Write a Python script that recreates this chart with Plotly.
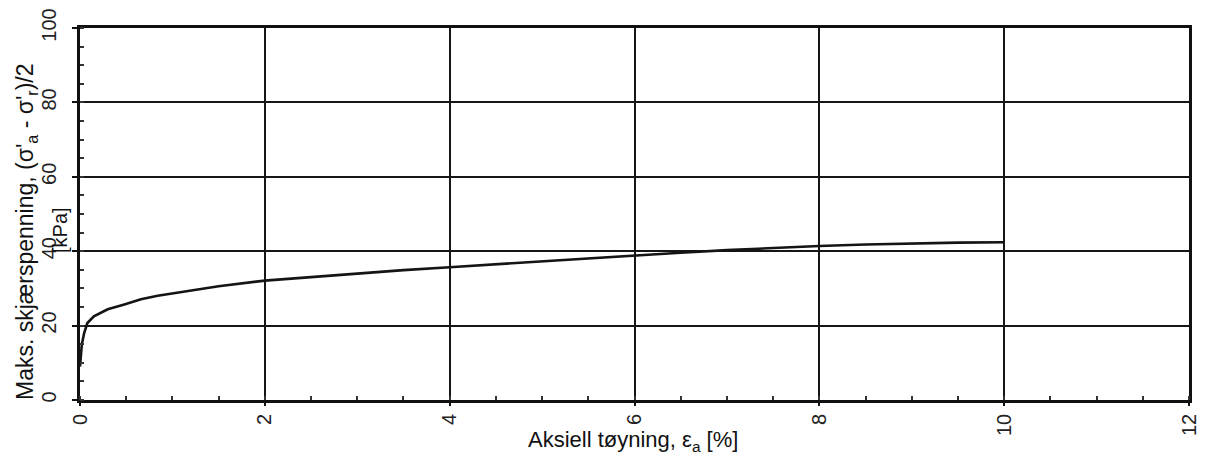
import plotly.graph_objects as go

strain = [0, 0.01, 0.02, 0.045, 0.08, 0.15, 0.3, 0.48, 0.66, 0.84, 1.1, 1.5, 2.0, 2.5, 3.0,
          3.5, 4.0, 4.5, 5.0, 5.5, 6.0, 6.5, 7.0, 7.5, 8.0, 8.5, 9.0, 9.5, 10.0]
shear = [9.0, 12.0, 15.0, 18.0, 20.7, 22.5, 24.4, 25.7, 27.1, 28.0, 29.1, 30.6, 32.1, 33.1, 34.0,
         34.9, 35.7, 36.5, 37.3, 38.1, 38.9, 39.6, 40.3, 40.9, 41.4, 41.8, 42.1, 42.3, 42.4]
x_ticks = [0, 2, 4, 6, 8, 10, 12]
y_ticks = [0, 20, 40, 60, 80, 100]

FONT = "Liberation Sans, Arial, sans-serif"

fig = go.Figure()
fig.add_trace(go.Scatter(x=strain, y=shear, mode="lines",
                         line=dict(color="#141414", width=2.6), showlegend=False,
                         hoverinfo="skip"))

axis_common = dict(showgrid=True, gridcolor="#161616", gridwidth=2.3,
                   showline=True, linecolor="#111", linewidth=2.5, mirror=True,
                   zeroline=False, tickangle=-90, automargin=False,
                   tickfont=dict(family=FONT, size=20, color="#222"))

fig.update_xaxes(range=[0, 12], tickvals=x_ticks, ticktext=[str(v) for v in x_ticks],
                 ticks="outside", ticklen=3, tickcolor="#111", tickwidth=2,
                 ticklabelstandoff=0,
                 minor=dict(dtick=0.5, ticks="inside", ticklen=4, tickcolor="#333", showgrid=False),
                 **axis_common)
fig.update_yaxes(range=[0, 100], tickvals=y_ticks, ticktext=[str(v) for v in y_ticks],
                 ticks="outside", ticklen=5, tickcolor="#111", tickwidth=2,
                 ticklabelstandoff=8,
                 minor=dict(dtick=5, ticks="inside", ticklen=4, tickcolor="#333", showgrid=False),
                 **axis_common)

fig.add_annotation(text="Aksiell tøyning, ε<sub>a</sub> [%]",
                   xref="paper", yref="paper", x=(633 - 80) / 1109, y=-(441 - 400) / 372,
                   xanchor="center", yanchor="middle", showarrow=False,
                   font=dict(family=FONT, size=22, color="#111"))
fig.add_annotation(text="Maks. skjærspenning, (σ'<sub>a</sub> - σ'<sub>r</sub>)/2",
                   xref="paper", yref="paper", x=-53 / 1109, y=(400 - 232) / 372,
                   xanchor="center", yanchor="middle", textangle=-90, showarrow=False,
                   font=dict(family=FONT, size=23, color="#111"))
fig.add_annotation(text="[kPa]",
                   xref="paper", yref="paper", x=-20 / 1109, y=(400 - 230) / 372,
                   xanchor="center", yanchor="middle", textangle=-90, showarrow=False,
                   font=dict(family=FONT, size=20, color="#111"))

fig.update_layout(width=1198, height=457,
                  margin=dict(l=72, r=17, t=20, b=65, autoexpand=False),
                  paper_bgcolor="white", plot_bgcolor="white")

fig.write_html("out.html")
